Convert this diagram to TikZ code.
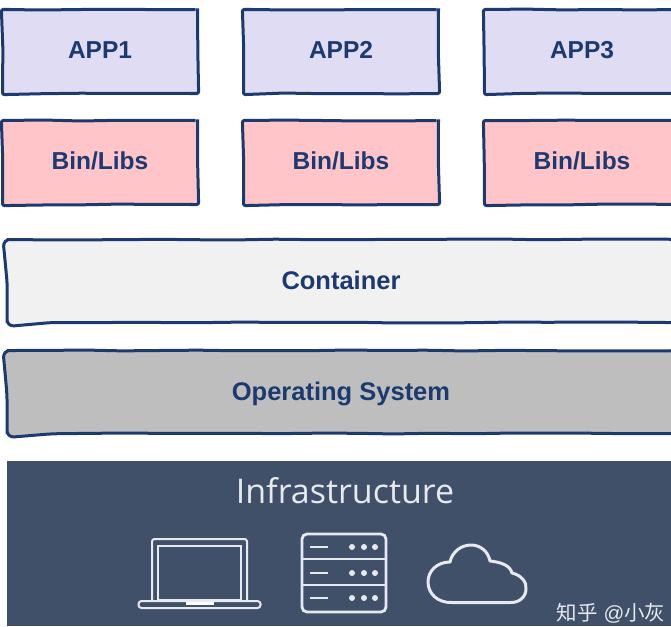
\documentclass[tikz,border=0pt]{standalone}
\usepackage{fontspec}
\setmainfont{Liberation Sans}
\newfontfamily\cjkfont{Noto Sans CJK SC}
\newfontfamily\thinfont{Open Sans}
\usetikzlibrary{positioning,decorations.pathmorphing}
\definecolor{inkblue}{HTML}{1C3A70}
\definecolor{applav}{HTML}{E0DCF3}
\definecolor{binpink}{HTML}{FFC5C9}
\definecolor{contgray}{HTML}{F1F1F1}
\definecolor{osgray}{HTML}{BEBEBE}
\definecolor{infraslate}{HTML}{3F5068}
\definecolor{iconwhite}{HTML}{E6E9EE}

\begin{document}
\begin{tikzpicture}[
        x=1pt, y=1pt,
        sketch/.style={draw=inkblue, line width=3pt, text=inkblue, font=\bfseries\fontsize{24.5}{28}\selectfont,
            text height=17pt, text depth=2pt, outer sep=0pt, rounded corners=2pt, decorate,
            decoration={random steps, segment length=38pt, amplitude=0.5pt}},
        appbox/.style={sketch, fill=applav, minimum width=195pt, minimum height=84pt},
        binbox/.style={sketch, fill=binpink, text depth=4pt, minimum width=195pt, minimum height=84pt},
        layerbox/.style={sketch, font=\bfseries\fontsize{25.5}{28}\selectfont, text depth=0pt, rounded corners=7pt,
            minimum width=692pt, minimum height=83pt},
        icon/.style={draw=iconwhite, line width=2pt, rounded corners=2.5pt}
    ]
        \pgfmathsetseed{7}
        \clip (0,0) rectangle (671,-626);

        % Apps
        \node[appbox] (app1) at (100,-51.5) {APP1};
        \node[appbox, right=46pt of app1] (app2) {APP2};
        \node[appbox, right=46pt of app2] (app3) {APP3};

        % Libraries
        \node[binbox, below=27pt of app1] (bin1) {Bin/Libs};
        \node[binbox, below=27pt of app2] (bin2) {Bin/Libs};
        \node[binbox, below=27pt of app3] (bin3) {Bin/Libs};

        % Shared layers, wider than the page on the right
        \node[layerbox, fill=contgray] (container) at (353,-281) {\hspace*{-24pt}Container};
        \node[layerbox, fill=osgray, below=28pt of container] (os) {\hspace*{-24pt}Operating System};

        % Infrastructure band
        \node[fill=infraslate, minimum width=664pt, minimum height=165pt, outer sep=0pt, anchor=north west] (infra) at (7,-461) {};
        \node[text=iconwhite, font=\thinfont\fontsize{34}{38}\selectfont] (infralabel) at (345,-491) {Infrastructure};

        % Laptop
        \draw[icon] (152,-600) -- (152,-539) -- (247,-539) -- (247,-600);
        \draw[icon, line width=1.5pt, rounded corners=0pt] (158,-600) rectangle (241,-546);
        \draw[icon, rounded corners=3pt] (138.5,-601) rectangle (260.5,-608);
        \draw[white, line width=2.2pt] (186,-603.5) -- (214,-603.5);

        % Server
        \draw[icon, line width=2.8pt, rounded corners=5pt] (302,-534) rectangle (386,-612);
        \draw[icon, line width=2.6pt] (302,-559) -- (386,-559);
        \draw[icon, line width=2.6pt] (302,-585) -- (386,-585);
        \foreach \y in {-547,-573,-598} {
            \draw[icon, line width=2.6pt] (310,\y) -- (328,\y);
            \foreach \x in {352,364,375}
                \fill[iconwhite] (\x,\y) circle (3pt);
        }

        % Cloud
        \draw[draw=iconwhite, line width=3pt, line join=round]
            (452,-602.5) .. controls (437,-603) and (428,-593) .. (428,-582)
            .. controls (428,-571) and (437,-562) .. (450,-562)
            .. controls (452,-552) and (461,-545) .. (471,-545)
            .. controls (480,-545) and (488,-551) .. (490,-561)
            .. controls (500,-562) and (510,-565) .. (512,-573)
            .. controls (521,-575) and (527,-582) .. (526,-589)
            .. controls (526,-597) and (519,-603) .. (510,-602.5) -- cycle;

        % Watermark
        \node[text=iconwhite, font=\fontsize{20.5}{22}\selectfont, anchor=base east] (mark) at (669,-620)
            {{\cjkfont 知乎} @{\cjkfont 小灰}};
    \end{tikzpicture}
\end{document}
